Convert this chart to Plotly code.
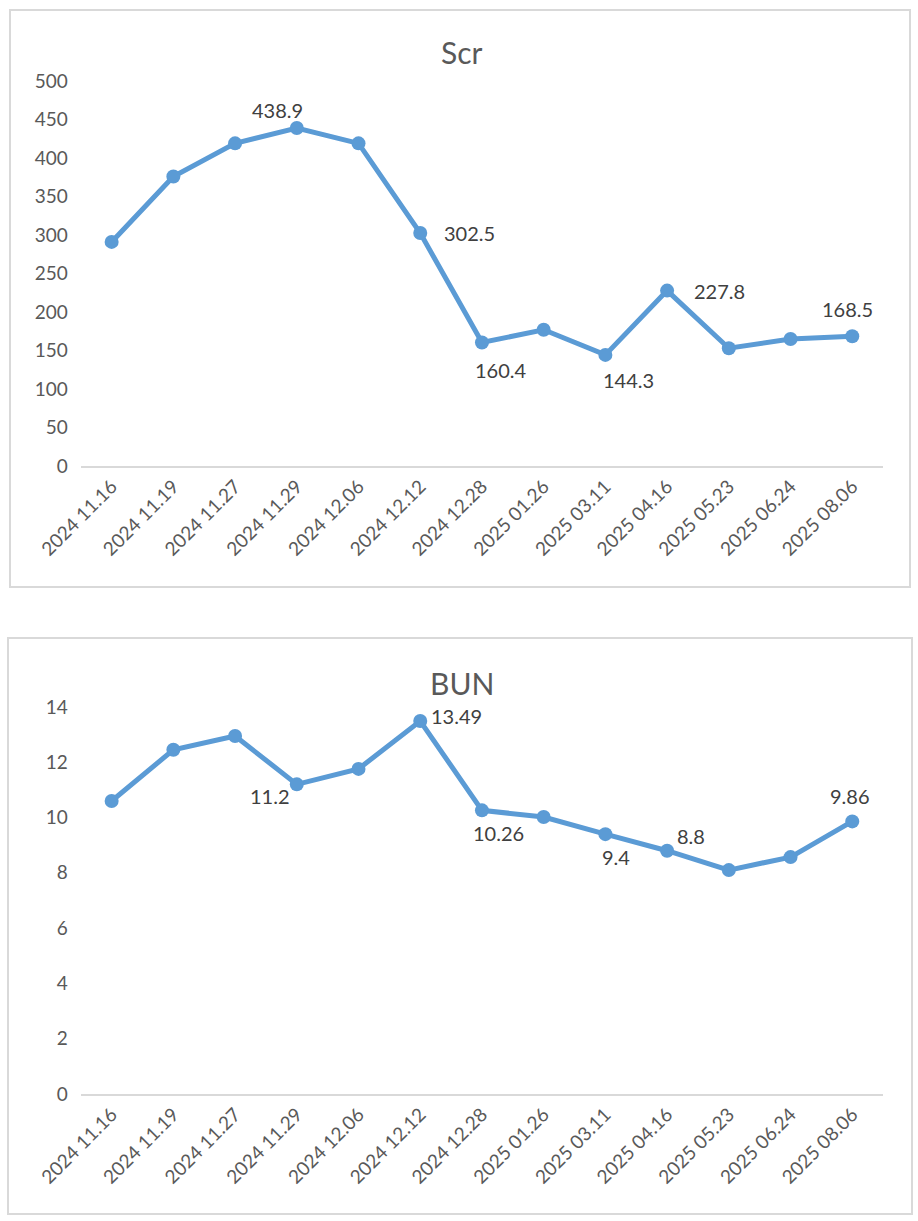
import plotly.graph_objects as go

# 数据
dates = ["2024 11.16", "2024 11.19", "2024 11.27", "2024 11.29", "2024 12.06",
         "2024 12.12", "2024 12.28", "2025 01.26", "2025 03.11", "2025 04.16",
         "2025 05.23", "2025 06.24", "2025 08.06"]
scr = [291, 376, 419, 438.9, 419, 302.5, 160.4, 177, 144.3, 227.8, 153, 165, 168.5]
bun = [10.6, 12.45, 12.95, 11.2, 11.76, 13.49, 10.26, 10.02, 9.4, 8.8, 8.1, 8.57, 9.86]

scr_labeled = [3, 5, 6, 8, 9, 12]
bun_labeled = [3, 5, 6, 8, 9, 12]

# label offsets (px): dx, dy(up)
scr_off = {3: (-19, 18), 5: (49, 0), 6: (19, -27), 8: (23, -25), 9: (52, 0), 12: (-5, 27)}
bun_off = {3: (-27, -12), 5: (36, 5), 6: (17, -23), 8: (11, -23), 9: (24, 15), 12: (-2, 25)}

BLUE = "#5B9BD5"
GRAY = "#595959"
FONT = "Lato"

fig = go.Figure()
fig.add_trace(go.Scatter(x=dates, y=scr, mode="lines+markers", xaxis="x", yaxis="y",
                         line=dict(color=BLUE, width=5), marker=dict(size=14, color=BLUE)))
fig.add_trace(go.Scatter(x=dates, y=bun, mode="lines+markers", xaxis="x2", yaxis="y2",
                         line=dict(color=BLUE, width=5), marker=dict(size=14, color=BLUE)))

ann = []
for i in scr_labeled:
    dx, dy = scr_off[i]
    ann.append(dict(x=dates[i], y=scr[i], xref="x", yref="y", text=str(scr[i]),
                    showarrow=False, xshift=dx, yshift=dy,
                    font=dict(family=FONT, size=20, color="#404040")))
for i in bun_labeled:
    dx, dy = bun_off[i]
    ann.append(dict(x=dates[i], y=bun[i], xref="x2", yref="y2", text=str(bun[i]),
                    showarrow=False, xshift=dx, yshift=dy,
                    font=dict(family=FONT, size=20, color="#404040")))

ann.append(dict(x=462 / 918, y=1 - 52 / 1221, xref="paper", yref="paper", text="Scr",
                xanchor="center", yanchor="middle",
                showarrow=False, font=dict(family=FONT, size=30, color=GRAY)))
ann.append(dict(x=462 / 918, y=1 - 683 / 1221, xref="paper", yref="paper", text="BUN",
                xanchor="center", yanchor="middle",
                showarrow=False, font=dict(family=FONT, size=30, color=GRAY)))

xax = dict(type="category", range=[-0.5, 12.5], tickangle=-45, showgrid=False,
           showline=True, linecolor="#D9D9D9", linewidth=2, ticks="", zeroline=False,
           tickfont=dict(family=FONT, size=19, color=GRAY), automargin=False)
yax = dict(showgrid=False, showline=False, zeroline=False, ticks="",
           tickfont=dict(family=FONT, size=19, color=GRAY), ticklabelstandoff=12,
           automargin=False)

fig.update_layout(
    width=918, height=1221,
    margin=dict(l=0, r=0, t=0, b=0),
    paper_bgcolor="white", plot_bgcolor="white",
    showlegend=False,
    xaxis=dict(xax, domain=[0.088, 0.962], anchor="y"),
    yaxis=dict(yax, domain=[0.6183, 0.9337], range=[0, 500], dtick=50, anchor="x"),
    xaxis2=dict(xax, domain=[0.088, 0.962], anchor="y2"),
    yaxis2=dict(yax, domain=[0.104, 0.421], range=[0, 14], dtick=2, anchor="x2"),
    annotations=ann,
    shapes=[
        dict(type="rect", xref="paper", yref="paper", x0=10 / 918, x1=910 / 918,
             y0=1 - 587 / 1221, y1=1 - 10 / 1221, line=dict(color="#D9D9D9", width=2)),
        dict(type="rect", xref="paper", yref="paper", x0=8 / 918, x1=912 / 918,
             y0=1 - 1214 / 1221, y1=1 - 638 / 1221, line=dict(color="#D9D9D9", width=2)),
    ],
)

fig.write_html("out.html", config={"displayModeBar": False},
               post_script="document.body.style.margin='0';")
